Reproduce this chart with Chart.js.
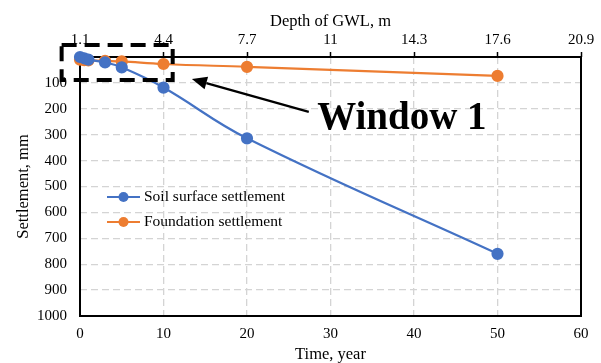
<!DOCTYPE html>
<html>
<head>
<meta charset="utf-8">
<script src="https://cdn.jsdelivr.net/npm/chart.js@4"></script>
<style>
  html,body{margin:0;padding:0;background:#fff;}
  #wrap{width:601px;height:363px;position:relative;}
</style>
</head>
<body>
<div id="wrap"><canvas id="c" width="601" height="363"></canvas></div>
<script>
// ---- data ----
const timeYears   = [0, 0.5, 1, 3, 5, 10, 20, 50];
const soilSurface = [0, 5, 10, 21, 40, 118, 314, 760];
const foundation  = [10, 12, 13, 15, 17, 27, 38, 73];
const seriesNames = ['Soil surface settlement', 'Foundation settlement'];
const timeTicks   = [0, 10, 20, 30, 40, 50, 60];
const depthTicks  = [1.1, 4.4, 7.7, 11, 14.3, 17.6, 20.9];
const settleTicks = [0, 100, 200, 300, 400, 500, 600, 700, 800, 900, 1000];
// annotation "Window 1" in data units (time, settlement)
const windowBox   = {t0: -2.2, t1: 11.1, s0: -46, s1: 89};
const arrowFrom   = {t: 27.4, s: 212};
const arrowTo     = {t: 13.4, s: 85};
const labelAt     = {t: 28.4, s: 241, text: 'Window 1'};

const BLUE = '#4472C4', ORANGE = '#ED7D31';
const SERIF = '"Liberation Serif", "Times New Roman", serif';

const framePlugin = {
  id: 'frame',
  beforeDatasetsDraw(chart) {
    const {ctx, chartArea: a} = chart;
    ctx.save();
    ctx.strokeStyle = '#000';
    ctx.lineWidth = 2;
    ctx.strokeRect(a.left, a.top, a.right - a.left, a.bottom - a.top);
    ctx.restore();
  }
};

const legendPlugin = {
  id: 'inlegend',
  afterDatasetsDraw(chart) {
    const {ctx, chartArea: a} = chart;
    ctx.save();
    ctx.font = '15.5px ' + SERIF;
    ctx.textBaseline = 'middle';
    chart.data.datasets.forEach((ds, i) => {
      const y = a.top + 140 + i * 25;
      const x0 = a.left + 27, x1 = a.left + 60;
      ctx.strokeStyle = ds.borderColor;
      ctx.lineWidth = 2.2;
      ctx.beginPath(); ctx.moveTo(x0, y); ctx.lineTo(x1, y); ctx.stroke();
      ctx.fillStyle = ds.backgroundColor;
      ctx.beginPath(); ctx.arc((x0 + x1) / 2, y, 5, 0, Math.PI * 2); ctx.fill();
      ctx.fillStyle = '#000';
      ctx.fillText(ds.label, x1 + 4, y);
    });
    ctx.restore();
  }
};

const annotPlugin = {
  id: 'annot',
  afterDraw(chart) {
    const {ctx} = chart;
    const xs = chart.scales.x, ys = chart.scales.y;
    const X = v => xs.getPixelForValue(v), Y = v => ys.getPixelForValue(v);
    ctx.save();
    // dashed window
    ctx.strokeStyle = '#000';
    ctx.lineWidth = 4;
    ctx.setLineDash([15, 8]);
    ctx.strokeRect(X(windowBox.t0), Y(windowBox.s0), X(windowBox.t1) - X(windowBox.t0), Y(windowBox.s1) - Y(windowBox.s0));
    ctx.setLineDash([]);
    // arrow
    const fx = X(arrowFrom.t), fy = Y(arrowFrom.s), tx = X(arrowTo.t), ty = Y(arrowTo.s);
    const ang = Math.atan2(ty - fy, tx - fx);
    const hl = 15, hw = 6.5;
    const bx = tx - hl * Math.cos(ang), by = ty - hl * Math.sin(ang);
    ctx.lineWidth = 2.2;
    ctx.beginPath(); ctx.moveTo(fx, fy); ctx.lineTo(bx, by); ctx.stroke();
    ctx.fillStyle = '#000';
    ctx.beginPath();
    ctx.moveTo(tx, ty);
    ctx.lineTo(bx + hw * Math.sin(ang), by - hw * Math.cos(ang));
    ctx.lineTo(bx - hw * Math.sin(ang), by + hw * Math.cos(ang));
    ctx.closePath(); ctx.fill();
    // label
    ctx.font = 'bold 39px ' + SERIF;
    ctx.textBaseline = 'middle';
    ctx.fillText(labelAt.text, X(labelAt.t), Y(labelAt.s));
    ctx.restore();
  }
};

const tickFont = {family: SERIF, size: 15};
const titleFont = {family: SERIF, size: 16.5, lineHeight: 1.2};
const titleFontB = {family: SERIF, size: 16.5, lineHeight: 1.0};

new Chart(document.getElementById('c'), {
  type: 'line',
  data: {
    datasets: [
      {
        label: seriesNames[0],
        data: timeYears.map((t, i) => ({x: t, y: soilSurface[i]})),
        borderColor: BLUE, backgroundColor: BLUE,
        borderWidth: 2.2, pointRadius: 5, pointHoverRadius: 5,
        tension: 0.4, clip: false, xAxisID: 'x', yAxisID: 'y'
      },
      {
        label: seriesNames[1],
        data: timeYears.map((t, i) => ({x: t, y: foundation[i]})),
        borderColor: ORANGE, backgroundColor: ORANGE,
        borderWidth: 2.2, pointRadius: 5, pointHoverRadius: 5,
        tension: 0.4, clip: false, xAxisID: 'x', yAxisID: 'y'
      }
    ]
  },
  options: {
    responsive: false,
    animation: false,
    devicePixelRatio: 1,
    layout: {padding: {left: 0, right: 20, top: 0, bottom: 0}},
    plugins: {legend: {display: false}, tooltip: {enabled: false}},
    scales: {
      x: {
        type: 'linear', position: 'bottom', min: 0, max: 60,
        afterBuildTicks: s => { s.ticks = timeTicks.map(v => ({value: v})); },
        afterFit: s => { s.height = 47; },
        grid: {color: '#d4d4d4', lineWidth: 1.3, drawTicks: false},
        border: {display: false, dash: [7, 4]},
        ticks: {font: tickFont, color: '#000', padding: 9, maxRotation: 0},
        title: {display: true, text: 'Time, year', font: titleFontB, color: '#000', padding: {top: 0, bottom: 0}}
      },
      x2: {
        type: 'linear', position: 'top', min: depthTicks[0], max: depthTicks[depthTicks.length - 1],
        afterBuildTicks: s => { s.ticks = depthTicks.map(v => ({value: v})); },
        afterFit: s => { s.height = 57; },
        grid: {drawOnChartArea: false, drawTicks: true, tickLength: 5, tickColor: '#000', tickWidth: 1.5},
        border: {display: false},
        ticks: {font: tickFont, color: '#000', padding: 3, maxRotation: 0, callback: v => String(v)},
        title: {display: true, text: 'Depth of GWL, m', font: titleFont, color: '#000', padding: {top: 12, bottom: 0}}
      },
      y: {
        type: 'linear', position: 'left', min: 0, max: 1000, reverse: true,
        afterBuildTicks: s => { s.ticks = settleTicks.map(v => ({value: v})); },
        afterFit: s => { s.width = 80; },
        grid: {color: '#d4d4d4', lineWidth: 1.3, drawTicks: false},
        border: {display: false, dash: [7, 4]},
        ticks: {font: tickFont, color: '#000', padding: 13, callback: v => (v === 0 ? '' : String(v))},
        title: {display: true, text: 'Settlement, mm', font: titleFont, color: '#000', padding: {top: 14, bottom: 0}}
      }
    }
  },
  plugins: [framePlugin, legendPlugin, annotPlugin]
});
</script>
</body>
</html>
